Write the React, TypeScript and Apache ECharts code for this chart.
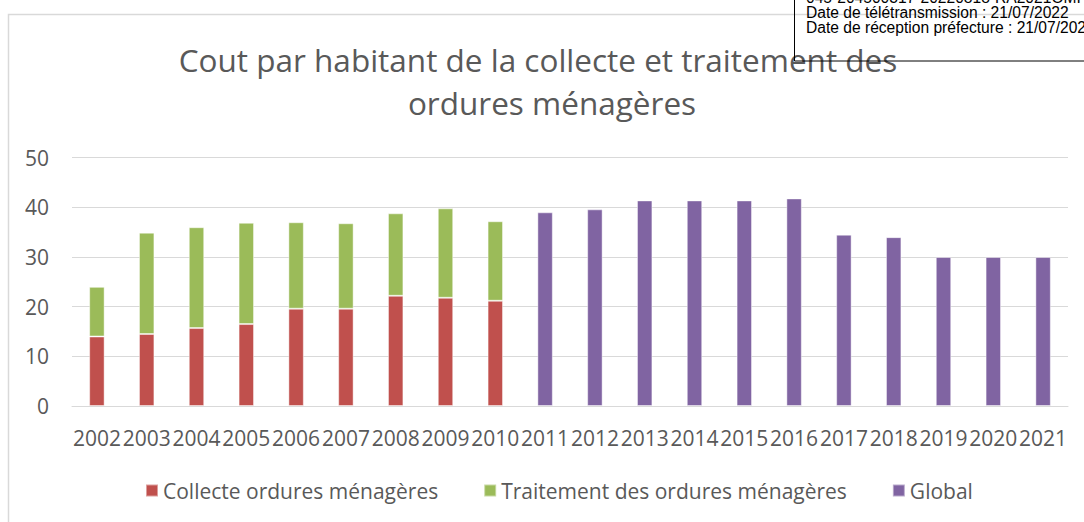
import React, { useEffect, useRef } from "react";
import * as echarts from "echarts";

const categories = [
  "2002", "2003", "2004", "2005", "2006", "2007", "2008", "2009", "2010", "2011",
  "2012", "2013", "2014", "2015", "2016", "2017", "2018", "2019", "2020", "2021",
];
const collecte = [14.0, 14.5, 15.7, 16.5, 19.6, 19.6, 22.2, 21.8, 21.2, null, null, null, null, null, null, null, null, null, null, null];
const traitement = [10.0, 20.4, 20.3, 20.4, 17.4, 17.2, 16.6, 18.0, 16.0, null, null, null, null, null, null, null, null, null, null, null];
const globalVals = [null, null, null, null, null, null, null, null, null, 39.0, 39.6, 41.4, 41.4, 41.4, 41.8, 34.5, 34.0, 30.0, 30.0, 30.0];

const titleLine1 = "Cout par habitant de la collecte et traitement des";
const titleLine2 = "ordures ménagères";
const stampLines = [
  "045-204500317-20220818-RA2021OMI",
  "Date de télétransmission : 21/07/2022",
  "Date de réception préfecture : 21/07/2022",
];

const FONT = "'Open Sans', sans-serif";
const GREY = "#595959";

export default function App() {
  const ref = useRef<HTMLDivElement>(null);
  useEffect(() => {
    if (!ref.current) return;
    const chart = echarts.init(ref.current, null, { renderer: "svg" });
    const barCommon = {
      type: "bar",
      stack: "total",
      barWidth: "31%",
      itemStyle: { borderColor: "rgba(255,255,255,0.45)", borderWidth: 1 },
    };
    chart.setOption({
      animation: false,
      backgroundColor: "#ffffff",
      grid: { left: 72, right: 16, top: 157.7, bottom: 116, containLabel: false },
      xAxis: {
        type: "category",
        data: categories,
        axisLine: { show: true, lineStyle: { color: "#d9d9d9", width: 1 } },
        axisTick: { show: false },
        axisLabel: { interval: 0, color: GREY, fontSize: 21, fontFamily: FONT, margin: 21 },
      },
      yAxis: {
        type: "value",
        min: 0,
        max: 50,
        interval: 10,
        axisLine: { show: false },
        axisTick: { show: false },
        splitLine: { lineStyle: { color: "#d9d9d9", width: 1 } },
        axisLabel: { color: GREY, fontSize: 21, fontFamily: FONT, margin: 23 },
      },
      legend: {
        left: 140,
        top: 475,
        itemWidth: 12,
        itemHeight: 12,
        itemGap: 45,
        icon: "rect",
        textStyle: { color: GREY, fontSize: 21, fontFamily: FONT },
        data: ["Collecte ordures ménagères", "Traitement des ordures ménagères", "Global"],
      },
      series: [
        { ...barCommon, name: "Collecte ordures ménagères", data: collecte, itemStyle: { ...barCommon.itemStyle, color: "#C0504D" } },
        { ...barCommon, name: "Traitement des ordures ménagères", data: traitement, itemStyle: { ...barCommon.itemStyle, color: "#9BBB59" } },
        { ...barCommon, name: "Global", data: globalVals, itemStyle: { ...barCommon.itemStyle, color: "#8064A2" } },
      ],
      graphic: [
        {
          type: "rect",
          shape: { x: 8.5, y: 14.5, width: 1200, height: 700 },
          style: { fill: "none", stroke: "#d9d9d9", lineWidth: 1.5 },
          z: 0,
        },
        {
          type: "text",
          x: 538,
          y: 59,
          style: { text: titleLine1, fill: GREY, fontSize: 31.5, fontFamily: FONT, align: "center", verticalAlign: "middle" },
        },
        {
          type: "text",
          x: 552,
          y: 102,
          style: { text: titleLine2, fill: GREY, fontSize: 31.5, fontFamily: FONT, align: "center", verticalAlign: "middle" },
        },
        {
          type: "rect",
          shape: { x: 794.5, y: -20, width: 400, height: 81 },
          style: { fill: "none", stroke: "#000000", lineWidth: 1 },
          z: 10,
        },
        ...stampLines.map((t, i) => ({
          type: "text",
          x: 806,
          y: 5 + i * 15,
          z: 10,
          style: { text: t, fill: "#000000", fontSize: 15.6, fontFamily: "'Liberation Sans', Arial, sans-serif", align: "left", verticalAlign: "bottom" },
        })),
      ],
    });
    return () => chart.dispose();
  }, []);
  return (
    <div
      ref={ref}
      style={{ position: "fixed", left: 0, top: 0, width: 1084, height: 522, background: "#fff" }}
    />
  );
}
